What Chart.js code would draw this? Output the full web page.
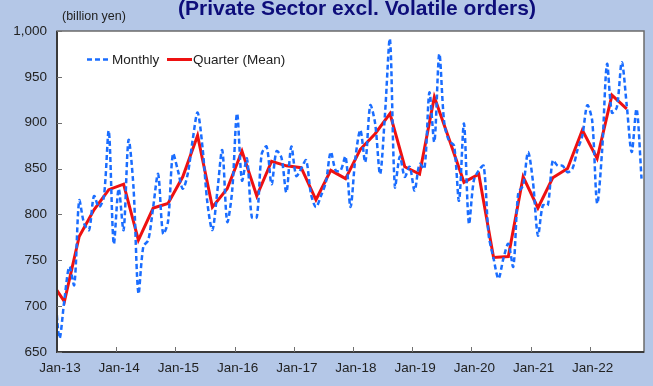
<!DOCTYPE html>
<html>
<head>
<meta charset="utf-8">
<script src="https://cdn.jsdelivr.net/npm/chart.js@4"></script>
<style>
  html, body { margin: 0; padding: 0; background: #b4c7e7; }
  #wrap { width: 653px; height: 386px; }
</style>
</head>
<body>
<div id="wrap"><canvas id="c" width="653" height="386"></canvas></div>
<script>
// Machinery orders, private sector excl. volatile orders (billion yen), monthly
const m2012 = [725]; // December only
const m2013 = [665, 707, 743, 723, 815, 790, 783, 820, 808, 819, 891, 768];
const m2014 = [828, 783, 881, 830, 714, 765, 772, 808, 844, 779, 792, 866];
const m2015 = [848, 828, 844, 881, 911, 873, 812, 783, 825, 870, 792, 825];
const m2016 = [910, 837, 861, 797, 797, 866, 874, 833, 869, 862, 824, 874];
const m2017 = [842, 850, 859, 822, 808, 820, 835, 868, 848, 848, 863, 808];
const m2018 = [862, 892, 857, 919, 899, 844, 910, 991, 830, 863, 841, 852];
const m2019 = [826, 855, 850, 933, 879, 975, 900, 880, 875, 815, 899, 790];
const m2020 = [837, 848, 853, 778, 752, 730, 752, 768, 743, 823, 832, 868];
const m2021 = [835, 777, 810, 810, 859, 853, 853, 846, 850, 870, 886, 919];
const m2022 = [902, 812, 869, 964, 911, 917, 966, 919, 868, 915, 839]; // Jan-Nov

// Quarterly means, plotted at the middle month of each quarter
const q2012 = [729]; // Q4 only
const q2013 = [705, 776, 805, 827];
const q2014 = [833, 772, 807, 812];
const q2015 = [841, 886, 808, 828];
const q2016 = [869, 820, 858, 853];
const q2017 = [851, 816, 848, 839];
const q2018 = [871, 888, 910, 852];
const q2019 = [844, 928, 882, 835];
const q2020 = [844, 753, 754, 841];
const q2021 = [807, 840, 850, 892];
const q2022 = [861, 930, 915]; // Q1-Q3

const yearTickLabels = ['Jan-13', 'Jan-14', 'Jan-15', 'Jan-16', 'Jan-17',
                        'Jan-18', 'Jan-19', 'Jan-20', 'Jan-21', 'Jan-22'];
const firstYear = 2013;

const monthlyByYear = [[2012, m2012], [2013, m2013], [2014, m2014], [2015, m2015],
  [2016, m2016], [2017, m2017], [2018, m2018], [2019, m2019], [2020, m2020],
  [2021, m2021], [2022, m2022]];
const quarterlyByYear = [[2012, q2012], [2013, q2013], [2014, q2014], [2015, q2015],
  [2016, q2016], [2017, q2017], [2018, q2018], [2019, q2019], [2020, q2020],
  [2021, q2021], [2022, q2022]];

// month index: 0 = Jan-13
function monthlyPoints() {
  const pts = [];
  monthlyByYear.forEach(([year, vals]) => {
    const start = year < firstYear ? 12 - vals.length : 0;
    vals.forEach((v, k) => pts.push({ x: (year - firstYear) * 12 + start + k, y: v }));
  });
  return pts;
}
function quarterPoints() {
  const pts = [];
  quarterlyByYear.forEach(([year, vals]) => {
    const start = year < firstYear ? 4 - vals.length : 0;
    vals.forEach((v, k) => pts.push({ x: (year - firstYear) * 12 + (start + k) * 3 + 1, y: v }));
  });
  return pts;
}

const monthly = monthlyPoints();
const quarterly = quarterPoints();
const lastMonth = monthly[monthly.length - 1].x;

const FONT = '"Liberation Sans", Arial, Helvetica, sans-serif';
const BLUE = '#1a6dff';
const RED = '#ee1111';

function withCommas(v) {
  return String(v).replace(/\B(?=(\d{3})+(?!\d))/g, ',');
}

const framePlugin = {
  id: 'frame',
  beforeDraw(chart) {
    const { ctx, chartArea: a } = chart;
    ctx.save();
    ctx.fillStyle = '#b4c7e7';
    ctx.fillRect(0, 0, chart.width, chart.height);
    ctx.fillStyle = '#ffffff';
    ctx.fillRect(a.left, a.top, a.right - a.left, a.bottom - a.top);
    ctx.restore();
  },
  afterDraw(chart) {
    const { ctx, chartArea: a, scales } = chart;
    ctx.save();
    // plot frame
    ctx.strokeStyle = '#6b6b6b';
    ctx.lineWidth = 1.5;
    ctx.strokeRect(a.left, a.top, a.right - a.left, a.bottom - a.top);
    ctx.strokeStyle = '#3a3a3a';
    ctx.lineWidth = 2;
    ctx.beginPath();
    ctx.moveTo(a.left, a.top);
    ctx.lineTo(a.left, a.bottom);
    ctx.lineTo(a.right, a.bottom);
    ctx.stroke();

    // inward tick marks
    ctx.strokeStyle = '#707070';
    ctx.lineWidth = 1;
    scales.x.ticks.forEach((t, i) => {
      if (i === 0) return;
      const px = Math.round(scales.x.getPixelForValue(t.value)) + 0.5;
      ctx.beginPath();
      ctx.moveTo(px, a.bottom);
      ctx.lineTo(px, a.bottom - 5);
      ctx.stroke();
    });
    scales.y.ticks.forEach(t => {
      const py = Math.round(scales.y.getPixelForValue(t.value)) + 0.5;
      ctx.beginPath();
      ctx.moveTo(a.left, py);
      ctx.lineTo(a.left + 5, py);
      ctx.stroke();
    });

    // title (runs off the top edge) and unit
    ctx.fillStyle = '#0d0d7a';
    ctx.font = 'bold 21px ' + FONT;
    ctx.textAlign = 'center';
    ctx.textBaseline = 'alphabetic';
    ctx.fillText('(Private Sector excl. Volatile orders)', 357, 15);
    ctx.fillStyle = '#222222';
    ctx.font = '12.5px ' + FONT;
    ctx.textAlign = 'left';
    ctx.textBaseline = 'middle';
    ctx.fillText('(billion yen)', 62, 17);

    // legend
    const ly = 59.5;
    ctx.lineWidth = 2.5;
    ctx.strokeStyle = BLUE;
    ctx.setLineDash([5, 3]);
    ctx.beginPath();
    ctx.moveTo(87, ly);
    ctx.lineTo(109, ly);
    ctx.stroke();
    ctx.setLineDash([]);
    ctx.strokeStyle = RED;
    ctx.lineWidth = 3;
    ctx.beginPath();
    ctx.moveTo(167, ly);
    ctx.lineTo(192, ly);
    ctx.stroke();
    ctx.fillStyle = '#222222';
    ctx.font = '13.5px ' + FONT;
    ctx.textBaseline = 'middle';
    ctx.fillText('Monthly', 112, ly + 0.5);
    ctx.fillText('Quarter (Mean)', 193, ly + 0.5);
    ctx.restore();
  }
};

new Chart(document.getElementById('c'), {
  type: 'line',
  data: {
    datasets: [
      {
        label: 'Monthly',
        data: monthly,
        borderColor: BLUE,
        borderWidth: 2.5,
        borderDash: [5, 3],
        pointRadius: 0,
        tension: 0.3,
        fill: false
      },
      {
        label: 'Quarter (Mean)',
        data: quarterly,
        borderColor: RED,
        borderWidth: 3,
        pointRadius: 0,
        tension: 0,
        fill: false
      }
    ]
  },
  options: {
    responsive: false,
    animation: false,
    events: [],
    layout: { padding: { left: 0, right: 9, top: 31, bottom: 0 } },
    plugins: { legend: { display: false }, tooltip: { enabled: false } },
    scales: {
      x: {
        type: 'linear',
        min: -0.5,
        max: lastMonth + 0.5,
        grid: { display: false, drawTicks: false },
        border: { display: false },
        afterBuildTicks: s => { s.ticks = yearTickLabels.map((_, k) => ({ value: 12 * k - 0.5 })); },
        afterFit: s => { s.height = 34; },
        ticks: {
          autoSkip: false, maxRotation: 0, minRotation: 0,
          padding: 8, labelOffset: 3,
          color: '#222222',
          font: { family: FONT, size: 13.5 },
          callback: (v, i) => yearTickLabels[i]
        }
      },
      y: {
        min: 650,
        max: 1000,
        grid: { display: false, drawTicks: false },
        border: { display: false },
        afterFit: s => { s.width = 57; },
        ticks: {
          stepSize: 50,
          padding: 10,
          color: '#222222',
          font: { family: FONT, size: 13.5 },
          callback: v => withCommas(v)
        }
      }
    }
  },
  plugins: [framePlugin]
});
</script>
</body>
</html>
